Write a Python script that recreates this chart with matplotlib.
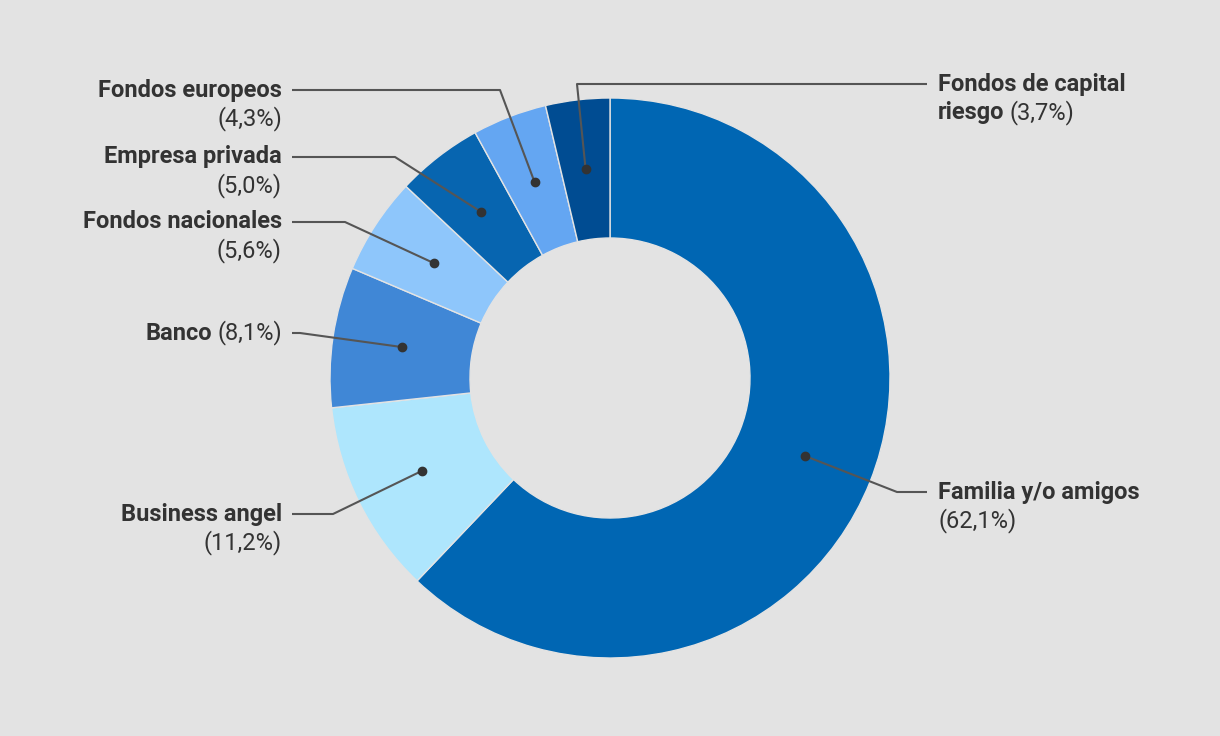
import numpy as np
import matplotlib.pyplot as plt

labels = ["Familia y/o amigos", "Business angel", "Banco", "Fondos nacionales",
          "Empresa privada", "Fondos europeos", "Fondos de capital riesgo"]
values = [62.1, 11.2, 8.1, 5.6, 5.0, 4.3, 3.7]
colors = ["#0066b3", "#aee6fd", "#4087d6", "#8ec6fb", "#0765b0", "#64a6f2", "#004c92"]

# label layout, pixel coords: (text x, first line y, elbow x, elbow y, side, lines)
layout = [
    (938, 492, 897, 492, "L", [[("Familia y/o amigos", True)], [("(62,1%)", False)]]),
    (282, 514, 333, 514, "R", [[("Business angel", True)], [("(11,2%)", False)]]),
    (282, 333, 300, 333, "R", [[("Banco", True), ("(8,1%)", False)]]),
    (282, 222, 345, 222, "R", [[("Fondos nacionales", True)], [("(5,6%)", False)]]),
    (282, 157, 395, 157, "R", [[("Empresa privada", True)], [("(5,0%)", False)]]),
    (282, 90, 500, 90, "R", [[("Fondos europeos", True)], [("(4,3%)", False)]]),
    (938, 84, 577, 84, "L", [[("Fondos de capital", True)], [("riesgo", True), ("(3,7%)", False)]]),
]

W, H = 1220, 736
CX, CY, R = 610, 378, 280
bg = "#e3e3e3"
txt = "#333333"
line_c = "#555555"

fig = plt.figure(figsize=(W / 100, H / 100), dpi=100, facecolor=bg)
ax = fig.add_axes([0, 0, 1, 1])
ax.set_facecolor(bg)

ax.pie(values, colors=colors, startangle=90, counterclock=False, radius=1,
       wedgeprops=dict(width=0.5, edgecolor=bg, linewidth=1))

ax.set_aspect("auto")
ax.set_xlim(-CX / R, (W - CX) / R)
ax.set_ylim(-(H - CY) / R, CY / R)
ax.axis("off")


def px(x, y):
    return (x - CX) / R, (CY - y) / R


renderer = fig.canvas.get_renderer()
line_h = 29
space = 5
fs = 17

cum = np.cumsum([0] + values[:-1])
for v, c0, lay in zip(values, cum, layout):
    tx, ty, ex, ey, side, lines = lay
    mid = np.deg2rad(90 - (c0 + v / 2) / 100 * 360)
    dx, dy = 0.75 * np.cos(mid), 0.75 * np.sin(mid)
    exd, eyd = px(ex, ey)
    if side == "R":
        hx = tx + 10
    else:
        hx = tx - 11
    hxd, hyd = px(hx, ey)
    ax.plot([dx, exd, hxd], [dy, eyd, hyd], color=line_c, lw=1.5, solid_capstyle="butt")
    ax.plot(dx, dy, "o", color=txt, ms=6)

    for i, parts in enumerate(lines):
        y = ty + i * line_h
        x = tx
        seq = reversed(parts) if side == "R" else parts
        for s, b in seq:
            t = ax.text(*px(x, y), s, ha="right" if side == "R" else "left", va="center",
                        fontsize=fs, family="Roboto",
                        fontweight="bold" if b else "normal", color=txt)
            w = t.get_window_extent(renderer).width
            x = x - w - space if side == "R" else x + w + space

fig.savefig("out.png", dpi=100, facecolor=bg)
